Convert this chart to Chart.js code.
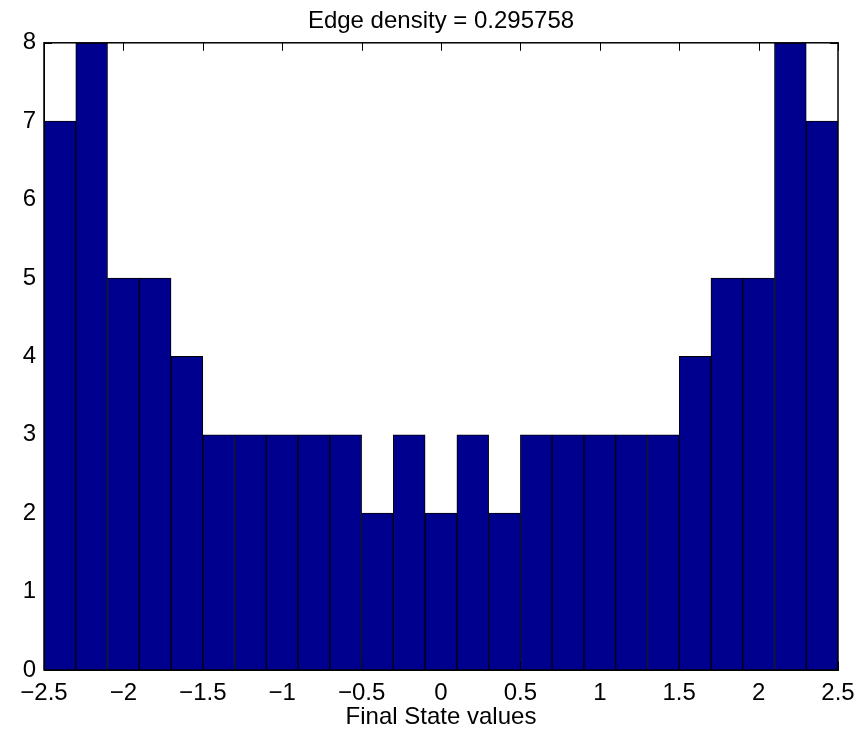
<!DOCTYPE html>
<html>
<head>
<meta charset="utf-8">
<title>Edge density histogram</title>
<script src="https://cdn.jsdelivr.net/npm/chart.js@4.4.1/dist/chart.umd.min.js"></script>
<style>
  html, body { margin: 0; padding: 0; background: #fff; }
  #wrap { width: 860px; height: 738px; }
</style>
</head>
<body>
<div id="wrap"><canvas id="hist"></canvas></div>
<script>
// histogram bins (width 0.2) and their counts
const binCenters = [-2.4, -2.2, -2.0, -1.8, -1.6, -1.4, -1.2, -1.0, -0.8, -0.6, -0.4, -0.2, 0.0,
  0.2, 0.4, 0.6, 0.8, 1.0, 1.2, 1.4, 1.6, 1.8, 2.0, 2.2, 2.4];
const counts = [7, 8, 5, 5, 4, 3, 3, 3, 3, 3, 2, 3, 2, 3, 2, 3, 3, 3, 3, 3, 4, 5, 5, 8, 7];
const xTicks = [-2.5, -2, -1.5, -1, -0.5, 0, 0.5, 1, 1.5, 2, 2.5];
const yTicks = [0, 1, 2, 3, 4, 5, 6, 7, 8];

const fmt = (v) => (v < 0 ? "\u2212" + Math.abs(v) : String(v));

Chart.defaults.font.family = "'Liberation Sans', Arial, Helvetica, sans-serif";
Chart.defaults.font.size = 24;
Chart.defaults.color = "#000";

// inward tick marks on all four sides, under the bars
const tickMarks = {
  id: "tickMarks",
  beforeDatasetsDraw(chart) {
    const { ctx, chartArea: a, scales } = chart;
    const len = 8;
    ctx.save();
    ctx.strokeStyle = "#000";
    ctx.lineWidth = 1;
    ctx.beginPath();
    xTicks.forEach((v) => {
      const px = Math.round(scales.x.getPixelForValue(v)) + 0.5;
      ctx.moveTo(px, a.bottom); ctx.lineTo(px, a.bottom - len);
      ctx.moveTo(px, a.top); ctx.lineTo(px, a.top + len);
    });
    yTicks.forEach((v) => {
      const py = Math.round(scales.y.getPixelForValue(v)) + 0.5;
      ctx.moveTo(a.left, py); ctx.lineTo(a.left + len, py);
      ctx.moveTo(a.right, py); ctx.lineTo(a.right - len, py);
    });
    ctx.stroke();
    ctx.restore();
  },
  afterDatasetsDraw(chart) {
    const { ctx, chartArea: a } = chart;
    ctx.save();
    ctx.strokeStyle = "#000";
    ctx.lineWidth = 1.5;
    ctx.strokeRect(a.left, a.top, a.right - a.left, a.bottom - a.top);
    ctx.restore();
  },
};

new Chart(document.getElementById("hist"), {
  type: "bar",
  data: {
    datasets: [
      {
        data: binCenters.map((c, i) => ({ x: c, y: counts[i] })),
        backgroundColor: "#00008F",
        borderColor: "#000",
        borderWidth: 1,
        barPercentage: 1,
        categoryPercentage: 1,
      },
    ],
  },
  options: {
    responsive: true,
    maintainAspectRatio: false,
    animation: false,
    layout: { padding: { left: 0, right: 22, top: 0, bottom: 0 } },
    plugins: {
      legend: { display: false },
      tooltip: { enabled: false },
      title: {
        display: true,
        fullSize: false,
        text: "Edge density = 0.295758",
        font: { size: 24, weight: "normal" },
        color: "#000",
        padding: { top: 7, bottom: 7 },
      },
    },
    scales: {
      x: {
        type: "linear",
        min: -2.5,
        max: 2.5,
        offset: false,
        grid: { display: false, drawTicks: false },
        border: { display: true, color: "#000" },
        afterBuildTicks: (s) => { s.ticks = xTicks.map((v) => ({ value: v })); },
        afterFit: (s) => {
          s.height = 68;
          s.paddingLeft = 0;
          s.paddingRight = 0;
        },
        ticks: { padding: 9, maxRotation: 0, autoSkip: false, callback: (v) => fmt(v) },
        title: {
          display: true,
          text: "Final State values",
          font: { size: 24 },
          padding: { top: 0, bottom: 6 },
        },
      },
      y: {
        min: 0,
        max: 8,
        grid: { display: false, drawTicks: false },
        border: { display: true, color: "#000" },
        afterBuildTicks: (s) => { s.ticks = yTicks.map((v) => ({ value: v })); },
        afterFit: (s) => {
          s.width = 44;
          s.paddingTop = 0;
          s.paddingBottom = 0;
        },
        ticks: { padding: 8, callback: (v) => fmt(v) },
      },
    },
  },
  plugins: [tickMarks],
});
</script>
</body>
</html>
